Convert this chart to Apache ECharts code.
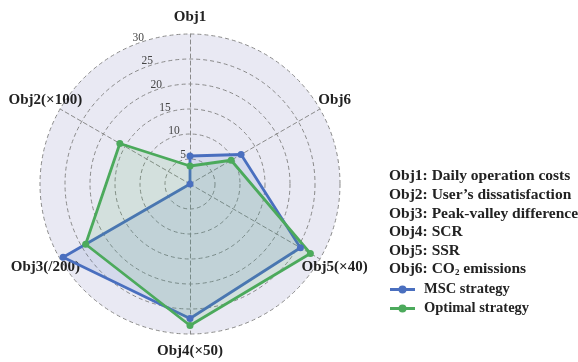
<!DOCTYPE html>
<html>
<head>
<meta charset="utf-8">
<script src="https://cdn.jsdelivr.net/npm/echarts@6/dist/echarts.min.js"></script>
<style>html,body{margin:0;padding:0;background:#fff;}#c{width:578px;height:362px;}</style>
</head>
<body>
<div id="c"></div>
<script>
const indicators = ['Obj1', 'Obj2(×100)', 'Obj3(/200)', 'Obj4(×50)', 'Obj5(×40)', 'Obj6'];
const axisMax = 30;
const tickInterval = 5;
const seriesNames = ['MSC strategy', 'Optimal strategy'];
const mscValues = [5.6, 0, 29.3, 26.9, 25.5, 11.8];
const optimalValues = [3.6, 16.2, 24.1, 28.3, 27.8, 9.5];
const descriptions = [
  'Obj1: Daily operation costs',
  'Obj2: User’s dissatisfaction',
  'Obj3: Peak-valley difference',
  'Obj4: SCR',
  'Obj5: SSR',
  'Obj6: CO₂ emissions'
];

const colors = ['#4a6fbf', '#4caa5c'];
const serif = '"Liberation Serif", "Times New Roman", serif';

function toRich(line) {
  const parts = line.split('₂');
  return parts.map(p => '{b|' + p + '}').join('{sub|2}');
}

const chart = echarts.init(document.getElementById('c'), null, {renderer: 'canvas'});
const legendIcon = 'path://M0,2.5H9V5.5H0Z M16,2.5H25V5.5H16Z M8.5,4A4,4,0,1,1,16.5,4A4,4,0,1,1,8.5,4Z';

chart.setOption({
  animation: false,
  color: colors,
  title: {
    left: 389,
    top: 167,
    padding: 0,
    text: descriptions.map(toRich).join('\n'),
    textStyle: {
      rich: {
        b: {fontFamily: serif, fontWeight: 'bold', fontSize: 15.5, color: '#222', lineHeight: 18.6},
        sub: {fontFamily: serif, fontWeight: 'bold', fontSize: 9, color: '#222', padding: [7, 0, 0, 0], lineHeight: 18.6}
      }
    }
  },
  legend: {
    orient: 'vertical',
    left: 390,
    top: 282,
    padding: 0,
    itemWidth: 25,
    itemHeight: 8,
    itemGap: 4,
    icon: legendIcon,
    data: seriesNames,
    textStyle: {fontFamily: serif, fontWeight: 'bold', fontSize: 14.5, color: '#222', padding: [0, 0, 0, 4]}
  },
  radar: {
    center: [190, 184],
    radius: 150,
    shape: 'circle',
    splitNumber: axisMax / tickInterval,
    startAngle: 90,
    indicator: indicators.map(n => ({name: n, min: 0, max: axisMax})),
    nameGap: 17,
    axisName: {
      fontFamily: serif,
      fontWeight: 'bold',
      fontSize: 15,
      color: '#222',
      align: 'center',
      verticalAlign: 'middle'
    },
    splitArea: {show: true, areaStyle: {color: ['#e9e9f3']}},
    splitLine: {lineStyle: {color: '#8a8a8a', type: [4, 3], width: 1}},
    axisLine: {lineStyle: {color: '#8a8a8a', type: [4, 3], width: 1}},
    axisLabel: {show: false}
  },
  polar: {center: [192, 178], radius: 150},
  angleAxis: {type: 'value', startAngle: 111, min: 0, max: 360, show: false},
  radiusAxis: {
    type: 'value', min: 0, max: axisMax, interval: tickInterval,
    axisLine: {show: false}, axisTick: {show: false}, splitLine: {show: false},
    axisLabel: {
      show: true, showMinLabel: false, margin: 0,
      align: 'center', verticalAlign: 'middle',
      fontFamily: serif, fontSize: 11.5, color: '#444'
    },
    z: 5
  },
  series: [{
    type: 'radar',
    z: 3,
    symbol: 'circle',
    symbolSize: 7,
    data: [
      {
        name: seriesNames[0], value: mscValues,
        lineStyle: {color: colors[0], width: 2.8},
        itemStyle: {color: colors[0]},
        areaStyle: {color: 'rgba(74,111,191,0.18)'}
      },
      {
        name: seriesNames[1], value: optimalValues,
        lineStyle: {color: colors[1], width: 2.8},
        itemStyle: {color: colors[1]},
        areaStyle: {color: 'rgba(76,170,92,0.2)'}
      }
    ]
  }]
});
</script>
</body>
</html>
